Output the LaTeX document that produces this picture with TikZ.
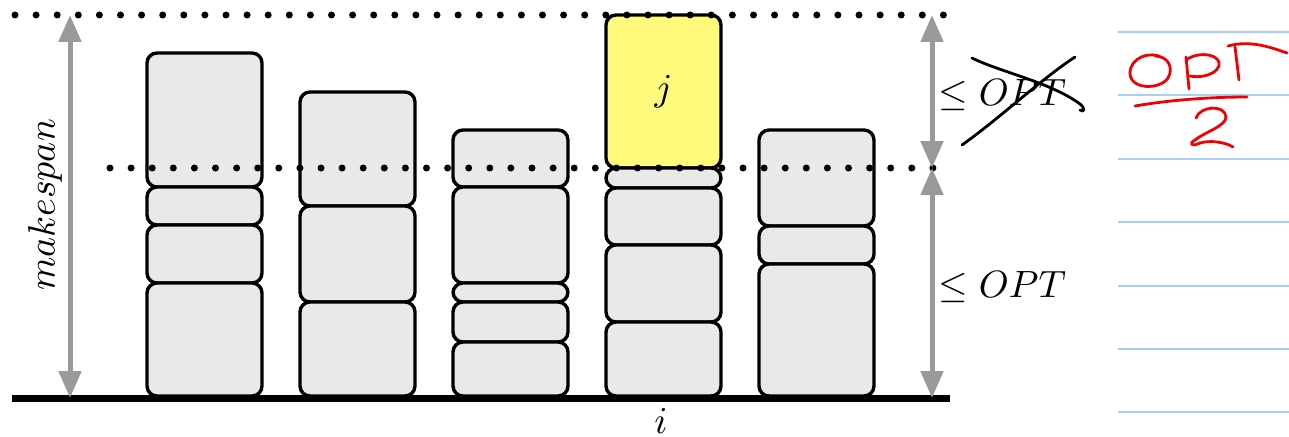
\documentclass[tikz,border=0pt]{standalone}
\usetikzlibrary{arrows.meta}
\definecolor{boxgray}{HTML}{E9E9E9}
\definecolor{jobyellow}{HTML}{FFF97C}
\definecolor{arrgray}{HTML}{999999}
\definecolor{ruleblue}{HTML}{A6CFF5}
\definecolor{inkred}{HTML}{F00000}
% \jobblk[fill]{name}{left x}{top y}{bottom y}
\newcommand\jobblk[5][boxgray]{%
  \node[blk, fill=#1, minimum height={(#5-#4)*1pt}] (#2) at (#3,#4) {};}
\begin{document}
\begin{tikzpicture}[x=1pt,y=-1pt,
  blk/.style={draw, line width=3.4pt, rounded corners=10pt, minimum width=115pt,
              inner sep=0pt, outer sep=0pt, anchor=north west},
  dots/.style={line width=7pt, line cap=round, dash pattern=on 0pt off 21.1pt},
  dim/.style={arrgray, line width=5pt,
              {Triangle[width=22pt,length=27pt]}-{Triangle[width=22pt,length=27pt]}},
  lbl/.style={scale=3.8, inner sep=0pt},
  pen/.style={line width=2.8pt, line cap=round, line join=round},
  rule/.style={ruleblue, line width=2pt}
]
\useasboundingbox (0,0) rectangle (1289,436);

% machine 1
\jobblk{a1}{147}{53}{187}
\jobblk{a2}{147}{187}{225}
\jobblk{a3}{147}{225}{283}
\jobblk{a4}{147}{283}{396}
% machine 2
\jobblk{b1}{300}{92}{206}
\jobblk{b2}{300}{206}{302}
\jobblk{b3}{300}{302}{396}
% machine 3
\jobblk{c1}{453}{130}{187}
\jobblk{c2}{453}{187}{283}
\jobblk{c3}{453}{283}{302}
\jobblk{c4}{453}{302}{342}
\jobblk{c5}{453}{342}{396}
% machine i, last job j on top
\jobblk[jobyellow]{dj}{606}{15}{168}
\jobblk{d2}{606}{168}{188}
\jobblk{d3}{606}{188}{245}
\jobblk{d4}{606}{245}{322}
\jobblk{d5}{606}{322}{396}
% machine 5
\jobblk{e1}{759}{130}{226}
\jobblk{e2}{759}{226}{264}
\jobblk{e3}{759}{264}{396}

\node[lbl] (jlab) at (dj.center) {$j$};

% time axis and levels
\draw[line width=7pt] (12,398) -- (950,398);
\draw[dots] (15,15) -- (952,15);
\draw[dots] (110,168) -- (943,168);

% dimension arrows
\coordinate (mTop) at (70,15);
\coordinate (mBot) at (70,398);
\coordinate (rTop) at (932,15);
\coordinate (rMid) at (932,168);
\coordinate (rBot) at (932,398);
\draw[dim] (mTop) -- (mBot);
\draw[dim] (rTop) -- (rMid);
\draw[dim] (rMid) -- (rBot);

\node[lbl, rotate=90] (mk) at (45,205) {$makespan$};
\node[lbl, anchor=base west] (optA) at (938,105) {$\leq OPT$};
\node[lbl, anchor=base west] (optB) at (938,297) {$\leq OPT$};
\node[lbl, anchor=base] (ilab) at (661,433) {$i$};

% crossing out the upper bound
\draw[pen] (972,58) .. controls (1000,72) and (1050,82) .. (1080,104)
           .. controls (1086,109) and (1084,113) .. (1080,110);
\draw[pen] (962,145) .. controls (1000,118) and (1040,80) .. (1075,57);

% ruled notebook lines
\foreach \k in {0,...,6}
  \draw[rule] (1118,{32+63.4*\k}) -- (1289,{32+63.4*\k});

% handwritten OPT/2
\begin{scope}[pen, inkred]
  \draw (1163,58) .. controls (1150,50) and (1130,58) .. (1130,73)
        .. controls (1130,90) and (1160,90) .. (1168,78)
        .. controls (1174,68) and (1168,56) .. (1155,56);
  \draw (1186,57) -- (1189,89);
  \draw (1186,60) .. controls (1200,50) and (1222,55) .. (1219,66)
        .. controls (1215,76) and (1198,78) .. (1190,76);
  \draw (1228,46) .. controls (1250,40) and (1270,47) .. (1287,53);
  \draw (1235,47) -- (1239,80);
  \draw (1135,106) .. controls (1170,100) and (1210,97) .. (1247,97);
  \draw (1196,118) .. controls (1200,106) and (1225,104) .. (1226,117)
        .. controls (1226,126) and (1205,132) .. (1195,140)
        .. controls (1188,144) and (1192,147) .. (1200,143)
        .. controls (1210,140) and (1225,142) .. (1233,147);
\end{scope}
\end{tikzpicture}
\end{document}
